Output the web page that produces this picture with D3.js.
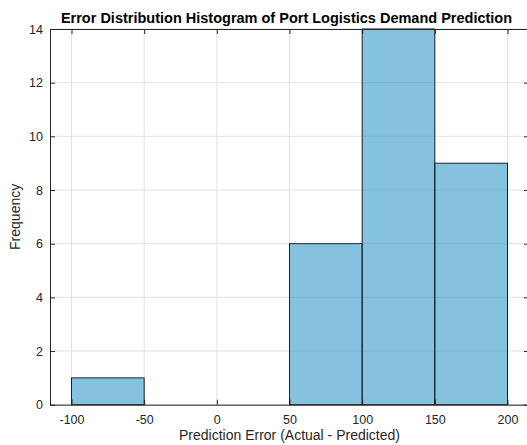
<!DOCTYPE html>
<html><head><meta charset="utf-8">
<script src="https://cdn.jsdelivr.net/npm/d3@7"></script>
<style>body{margin:0;background:#fff;} text{font-family:"Liberation Sans",Arial,sans-serif;}</style>
</head><body>
<svg id="c" width="527" height="445"></svg>
<script>
const binEdges = [-100, -50, 0, 50, 100, 150, 200];
const counts = [1, 0, 0, 6, 14, 9];
const xTicks = [-100, -50, 0, 50, 100, 150, 200];
const yTicks = [0, 2, 4, 6, 8, 10, 12, 14];
const title = "Error Distribution Histogram of Port Logistics Demand Prediction";
const xLabel = "Prediction Error (Actual - Predicted)";
const yLabel = "Frequency";

const svg = d3.select("#c");
const L = 50, R = 529, T = 29, B = 404.7;
const x = d3.scaleLinear().domain([-114.8, 214.8]).range([L, R]);
const y = d3.scaleLinear().domain([0, 14]).range([B, T]);
const axisColor = "#262626";

// grid
const g = svg.append("g");
g.selectAll("line.gx").data(xTicks).enter().append("line")
  .attr("x1", d => x(d)).attr("x2", d => x(d)).attr("y1", T).attr("y2", B)
  .attr("stroke", "#e2e2e2").attr("stroke-width", 1);
g.selectAll("line.gy").data(yTicks).enter().append("line")
  .attr("y1", d => y(d)).attr("y2", d => y(d)).attr("x1", L).attr("x2", R)
  .attr("stroke", "#e2e2e2").attr("stroke-width", 1);

// bars
const bins = counts.map((c, i) => ({x0: binEdges[i], x1: binEdges[i + 1], c}));
svg.append("g").selectAll("rect").data(bins.filter(b => b.c > 0)).enter().append("rect")
  .attr("x", d => x(d.x0)).attr("width", d => x(d.x1) - x(d.x0))
  .attr("y", d => y(d.c)).attr("height", d => y(0) - y(d.c))
  .attr("fill", "rgb(51,153,204)").attr("fill-opacity", 0.6)
  .attr("stroke", "#111").attr("stroke-width", 0.9);

// axes
const fmt = d => String(d);
const xb = svg.append("g").attr("transform", `translate(0,${B})`)
  .call(d3.axisBottom(x).tickValues(xTicks).tickFormat(fmt).tickSizeInner(-5).tickSizeOuter(0).tickPadding(10));
const xt = svg.append("g").attr("transform", `translate(0,${T})`)
  .call(d3.axisTop(x).tickValues(xTicks).tickSizeInner(-5).tickSizeOuter(0).tickFormat(""));
const yl = svg.append("g").attr("transform", `translate(${L},0)`)
  .call(d3.axisLeft(y).tickValues(yTicks).tickFormat(fmt).tickSizeInner(-5).tickSizeOuter(0).tickPadding(7));
const yr = svg.append("g").attr("transform", `translate(${R},0)`)
  .call(d3.axisRight(y).tickValues(yTicks).tickSizeInner(-5).tickSizeOuter(0).tickFormat(""));
[xb, xt, yl, yr].forEach(a => {
  a.select(".domain").attr("stroke", axisColor).attr("stroke-width", 1);
  a.selectAll(".tick line").attr("stroke", axisColor).attr("stroke-width", 1);
  a.selectAll("text").attr("fill", axisColor).attr("font-size", 12.5)
    .attr("font-family", '"Liberation Sans",Arial,sans-serif');
});
svg.append("text").attr("x", (L + R) / 2 - 3).attr("y", 23).attr("text-anchor", "middle")
  .attr("font-weight", "bold").attr("font-size", 14.5).attr("fill", "#000").text(title);
svg.append("text").attr("x", (L + R) / 2).attr("y", 440).attr("text-anchor", "middle")
  .attr("font-size", 14).attr("fill", axisColor).text(xLabel);
svg.append("text").attr("transform", `translate(20,${(T + B) / 2}) rotate(-90)`)
  .attr("text-anchor", "middle").attr("font-size", 14).attr("fill", axisColor).text(yLabel);
</script>
</body></html>
